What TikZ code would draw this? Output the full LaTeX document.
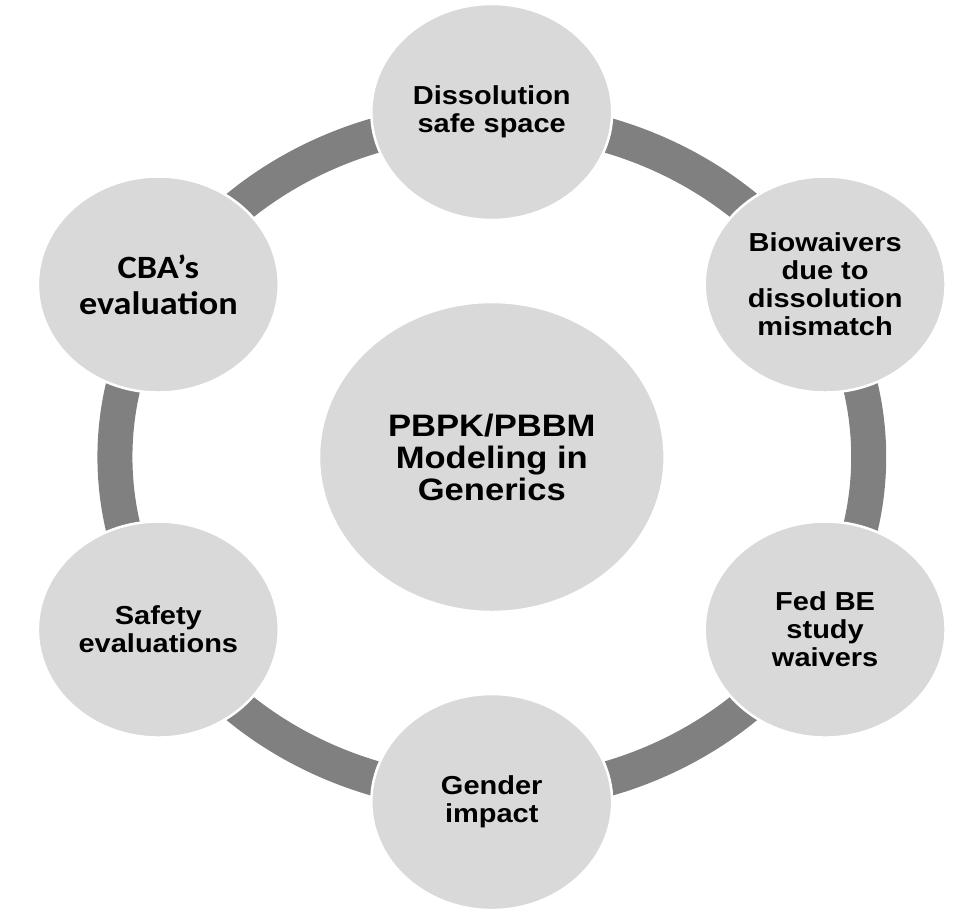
\documentclass[tikz,border=0pt]{standalone}
\usepackage{fontspec}
\setmainfont{Liberation Sans}
\newfontfamily\cbafont{Carlito}
\definecolor{bubblegray}{HTML}{D9D9D9}
\definecolor{ringgray}{HTML}{808080}
\tikzset{
  bubble/.style={circle, fill=bubblegray, draw=white, line width=2.5pt,
    minimum size=216pt, inner sep=0pt, align=center,
    font=\bfseries\fontsize{26}{28}\selectfont},
  hub/.style={bubble, minimum size=310pt,
    font=\bfseries\fontsize{31}{32}\selectfont},
  ring/.style={draw=ringgray, line width=35pt}
}
\begin{document}
\begin{tikzpicture}[x=1pt, y=1pt, xscale=1.115, every node/.append style={transform shape}]
    \useasboundingbox (0,0) rectangle (872.6,913);

    % Mittelpunkt und Ring
    \coordinate (O) at (441,456);
    \draw[ring] (O) circle (338pt);

    % Zentrum
    \node[hub] (hub) at (O) {PBPK/PBBM\\Modeling in\\Generics};

    % Kreise rundherum
    \node[bubble] (dissolution) at (441,801) {Dissolution\\safe space};
    \node[bubble] (biowaivers) at (740,628.5) {Biowaivers\\due to\\dissolution\\mismatch};
    \node[bubble] (fedbe) at (740,283.5) {Fed BE\\study\\waivers};
    \node[bubble] (gender) at (441,111) {Gender\\impact};
    \node[bubble] (safety) at (142,283.5) {Safety\\evaluations};
    \node[bubble, font=\cbafont\bfseries\fontsize{32.5}{36}\selectfont] (cba) at (142,628.5) {CBA’s\\evaluation};
\end{tikzpicture}
\end{document}
